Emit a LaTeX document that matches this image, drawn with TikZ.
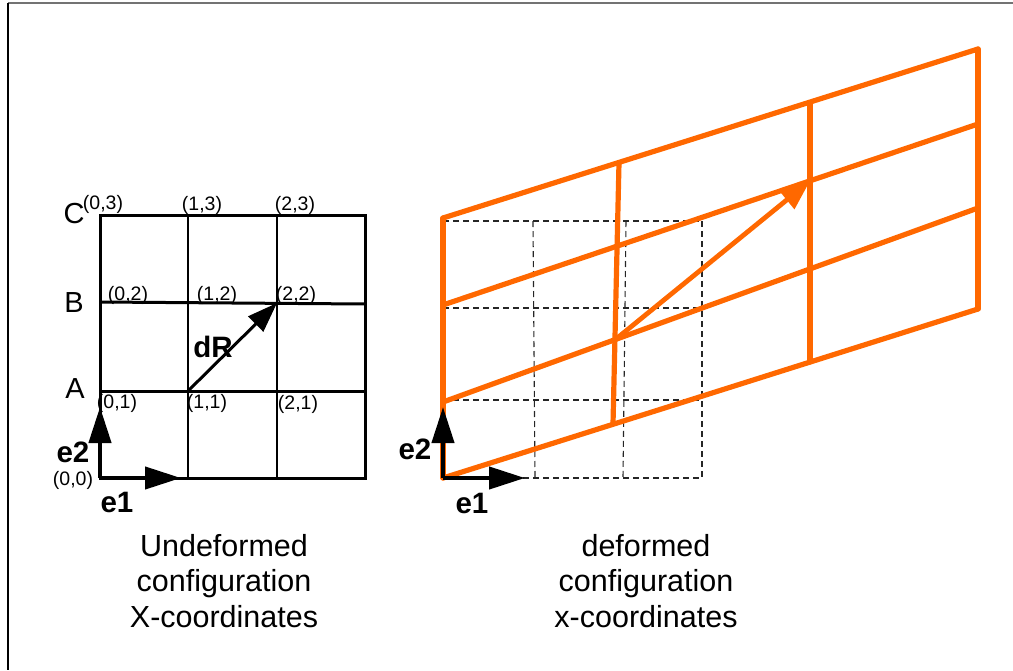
\documentclass[tikz,border=0pt]{standalone}
\usepackage{fontspec}
\setmainfont{Liberation Sans}
\usetikzlibrary{arrows.meta}
\definecolor{deforange}{RGB}{255,104,0}
\begin{document}
\begin{tikzpicture}[x=1pt,y=-1pt,
  thickline/.style={line width=3pt},
  thinline/.style={line width=1.1pt},
  dashline/.style={line width=1.1pt,dash pattern=on 6pt off 4pt,black!85},
  orangeline/.style={line width=5.2pt,deforange,line cap=round,line join=round},
  basisarrow/.style={line width=4.2pt,-{Triangle[length=36pt,width=22pt]}},
  small/.style={font=\fontsize{19.5}{22}\selectfont,inner sep=0pt},
  letter/.style={font=\fontsize{29}{33}\selectfont,inner sep=0pt},
  boldlab/.style={font=\fontsize{29.5}{33}\selectfont\bfseries,inner sep=0pt},
  caption/.style={font=\fontsize{30.5}{35.5}\selectfont,align=center,inner sep=0pt}]
\useasboundingbox (0,0) rectangle (1013,670);
% frame
\draw[line width=1.3pt,black!55] (8,3) -- (1013,3);
\draw[line width=1.5pt] (8,3) -- (8,670);

% ---------- undeformed grid ----------
\coordinate (L00) at (100,478); \coordinate (L30) at (365,478);
\coordinate (L03) at (100,215); \coordinate (L33) at (365,215);
\coordinate (L01) at (100,391); \coordinate (L31) at (365,391);
\coordinate (L02) at (100,302); \coordinate (L32) at (365,304);
\coordinate (L10) at (188,478); \coordinate (L13) at (188,215);
\coordinate (L20) at (277,478); \coordinate (L23) at (277,215);
\coordinate (L11) at (188,391); \coordinate (L22) at (277,303);
\draw[thinline] (L10) -- (L13);
\draw[thinline] (L20) -- (L23);
\draw[thickline] (L01) -- (L31);
\draw[thickline] (L02) -- (L32);
\draw[thickline,line join=miter] (L00) -- (L30) -- (L33) -- (L03) -- cycle;
\draw[line width=3pt,-{Triangle[length=30pt,width=21pt]}] (L11) -- (L22);
\draw[basisarrow] (L00) -- (100,407) coordinate (Le2);
\draw[basisarrow] (L00) -- (181,478) coordinate (Le1);

\node[letter] (lC) at (74,214) {C};
\node[letter] (lB) at (74,303) {B};
\node[letter] (lA) at (75,389) {A};
\node[small] (p03) at (103,204) {(0,3)};
\node[small] (p13) at (202,205) {(1,3)};
\node[small] (p23) at (295,205) {(2,3)};
\node[small] (p02) at (128,295) {(0,2)};
\node[small] (p12) at (217,295) {(1,2)};
\node[small] (p22) at (296,295) {(2,2)};
\node[small] (p01) at (117,403) {(0,1)};
\node[small] (p11) at (207,403) {(1,1)};
\node[small] (p21) at (298,404) {(2,1)};
\node[small] (p00) at (73,480) {(0,0)};
\node[boldlab] (ldR) at (213,347) {dR};
\node[boldlab] (le2) at (73,452) {e2};
\node[boldlab] (le1) at (117,502) {e1};
\node[caption] (capL) at (224,581) {Undeformed\\configuration\\X-coordinates};

% ---------- reference dashed grid ----------
\draw[dashline] (443,221) -- (702,221);
\draw[dashline] (443,308) -- (702,308);
\draw[dashline] (443,400) -- (702,400);
\draw[dashline] (443,478) -- (702,478);
\draw[dashline] (443,221) -- (443,478);
\draw[dashline] (533,221) -- (535,478);
\draw[dashline] (626,221) -- (623,478);
\draw[dashline] (702,221) -- (702,478);

% ---------- deformed grid ----------
\coordinate (D00) at (443,478); \coordinate (D30) at (978,309);
\coordinate (D01) at (443,402); \coordinate (D31) at (978,208);
\coordinate (D02) at (443,305); \coordinate (D32) at (978,124);
\coordinate (D03) at (443,218); \coordinate (D33) at (978,49);
\coordinate (D10) at (613,424); \coordinate (D13) at (619,163);
\coordinate (D20) at (810,362); \coordinate (D23) at (810,103);
\coordinate (D11) at (616,339); \coordinate (D22) at (810,181);
\draw[orangeline] (D00) -- (D30);
\draw[orangeline] (D01) -- (D31);
\draw[orangeline] (D02) -- (D32);
\draw[orangeline] (D03) -- (D33);
\draw[orangeline] (D00) -- (D03);
\draw[orangeline] (D30) -- (D33);
\draw[orangeline] (D10) -- (D13);
\draw[orangeline] (D20) -- (D23);
\draw[line width=4.8pt,deforange,-{Triangle[length=30pt,width=23pt]}] (D11) -- (D22);

\draw[basisarrow] (D00) -- (443,407) coordinate (Re2);
\draw[basisarrow] (D00) -- (525,478) coordinate (Re1);
\node[boldlab] (re2) at (415,449) {e2};
\node[boldlab] (re1) at (472,503) {e1};
\node[caption] (capR) at (646,581) {deformed\\configuration\\x-coordinates};
\end{tikzpicture}
\end{document}
